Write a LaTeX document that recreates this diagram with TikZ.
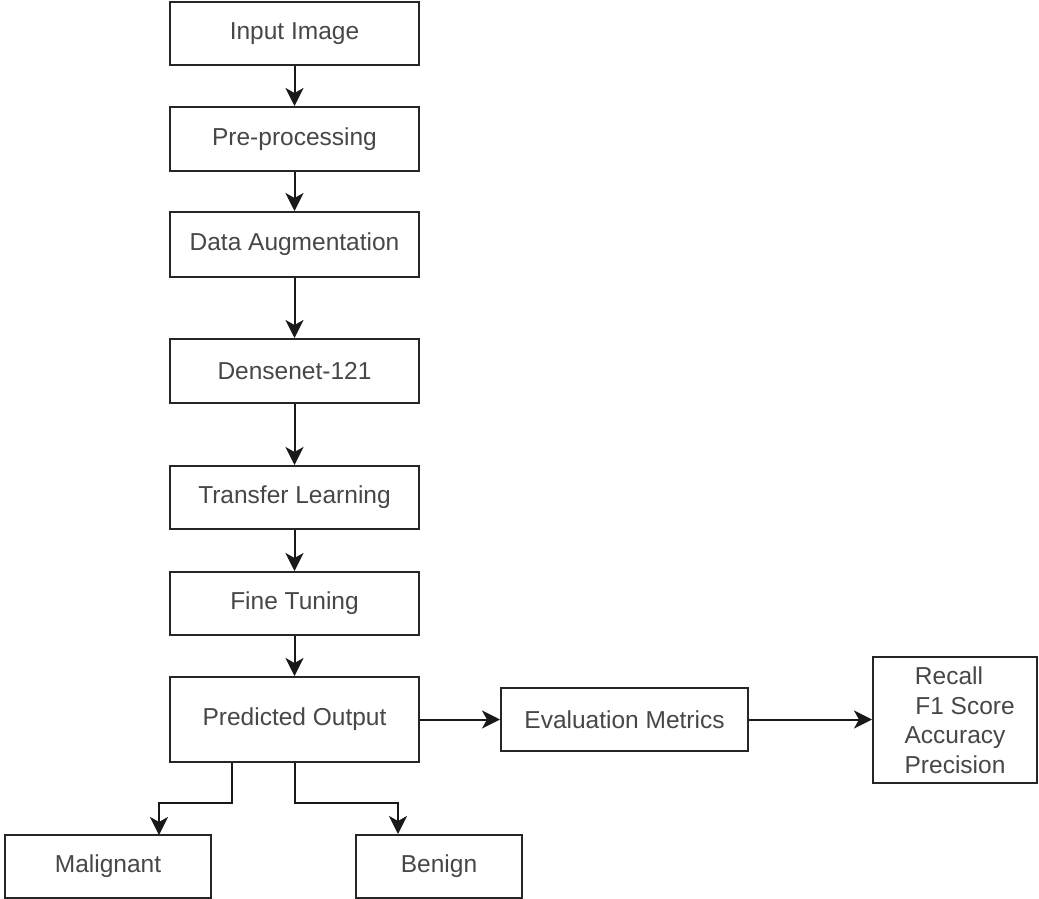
\documentclass[tikz,border=0pt]{standalone}
\usepackage{fontspec}
\setmainfont{Liberation Sans}
\usetikzlibrary{arrows.meta}
\begin{document}
\begin{tikzpicture}[x=1pt,y=-1pt,
  box/.style={draw=black!85,line width=2pt,fill=white,rectangle,inner sep=0pt,
    font=\fontsize{24.5}{29.5}\selectfont,text=black!72},
  conn/.style={draw=black!90,line width=2pt,-{Stealth[length=18pt,width=18pt,inset=5pt]}}]
\useasboundingbox (0,0) rectangle (1039,899);
\fill[white] (0,0) rectangle (1039,899);
\node[box,minimum width=249pt,minimum height=63pt] (inp) at (294.5,33.5) {Input Image};
\node[box,minimum width=249pt,minimum height=64pt] (pre) at (294.5,139) {Pre-processing};
\node[box,minimum width=249pt,minimum height=65pt] (aug) at (294.5,244.5) {Data Augmentation};
\node[box,minimum width=249pt,minimum height=64pt] (dense) at (294.5,371) {Densenet-121};
\node[box,minimum width=249pt,minimum height=63pt] (tl) at (294.5,497.5) {Transfer Learning};
\node[box,minimum width=249pt,minimum height=63pt] (ft) at (294.5,603.5) {Fine Tuning};
\node[box,minimum width=249pt,minimum height=85pt] (pred) at (294.5,719.5) {Predicted Output};
\node[box,minimum width=247pt,minimum height=63pt] (eval) at (624.5,719.5) {Evaluation Metrics};
\node[box,minimum width=164pt,minimum height=126pt,align=center] (met) at (955,720)
  {\hspace*{-12pt}Recall\\\hspace*{20pt}F1 Score\\Accuracy\\Precision};
\node[box,minimum width=206pt,minimum height=63pt] (mal) at (108,866.5) {Malignant};
\node[box,minimum width=166pt,minimum height=63pt] (ben) at (439,866.5) {Benign};

\draw[conn] (inp) -- (pre);
\draw[conn] (pre) -- (aug);
\draw[conn] (aug) -- (dense);
\draw[conn] (dense) -- (tl);
\draw[conn] (tl) -- (ft);
\draw[conn] (ft) -- (pred);
\draw[conn] (pred) -- (eval);
\draw[conn] (eval) -- (met.west |- eval.east);
\coordinate (mb) at (232,803);
\coordinate (bb) at (398,803);
\draw[conn] (pred.south -| mb) -- (mb) -- (159,803) -- (159,835);
\draw[conn] (pred.south) -- (294.5,803) -- (bb) -- (bb |- ben.north);
\end{tikzpicture}
\end{document}
